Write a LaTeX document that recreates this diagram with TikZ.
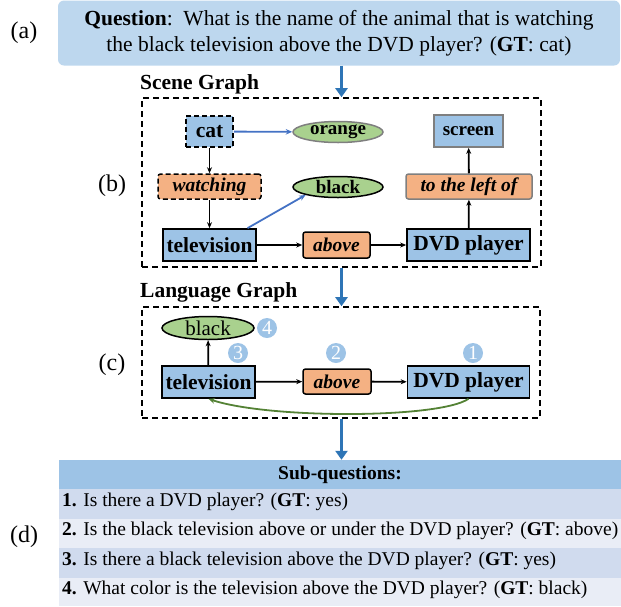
\documentclass[tikz,border=0pt]{standalone}
\usepackage{fontspec}
\setmainfont{Liberation Serif}
\usetikzlibrary{shapes.geometric,arrows.meta}
\definecolor{nblue}{HTML}{9DC3E6}
\definecolor{qblue}{HTML}{BDD7EE}
\definecolor{norange}{HTML}{F4B183}
\definecolor{ngreen}{HTML}{A9D18E}
\definecolor{ablue}{HTML}{2E75B6}
\definecolor{lblue}{HTML}{4472C4}
\definecolor{cgreen}{HTML}{548235}
\definecolor{rowa}{HTML}{D0DBEE}
\definecolor{rowb}{HTML}{E9EDF6}
\definecolor{ngrey}{HTML}{7F7F7F}
\newcommand{\fs}[1]{\fontsize{#1}{#1}\selectfont}
\begin{document}
\begin{tikzpicture}[x=1pt,y=-1pt,
  ent/.style={draw=black, line width=1.7pt, fill=nblue, inner sep=0pt, font=\fs{21.5}\bfseries},
  sment/.style={draw=black, line width=1.7pt, fill=nblue, inner sep=0pt, font=\fs{19}\bfseries},
  rel/.style={draw=black, line width=1.5pt, fill=norange, rounded corners=2.5pt, inner sep=0pt, font=\fs{19.5}\bfseries\itshape},
  attr/.style={ellipse, draw=black, line width=1.5pt, fill=ngreen, inner sep=0pt, font=\fs{19}\bfseries},
  dsh/.style={dash pattern=on 5pt off 3pt},
  grp/.style={draw=black, line width=1.6pt, dash pattern=on 6pt off 4pt, inner sep=0pt},
  conn/.style={line width=1.8pt, -{Stealth[length=6pt,width=5pt]}},
  bconn/.style={line width=1.8pt, lblue, -{Stealth[length=6.5pt,width=5.5pt]}},
  bigarr/.style={line width=3.4pt, ablue, -{Triangle[length=9pt,width=12pt]}},
  num/.style={circle, fill=nblue, inner sep=0pt, minimum size=20pt, text=white, font=\fs{20}},
  lab/.style={font=\fs{24}},
  sec/.style={anchor=west, inner sep=0pt, font=\fs{21.5}\bfseries},
  rowtxt/.style={anchor=mid west, inner sep=0pt, font=\fs{19.5}}
]
\path[use as bounding box] (0,0) rectangle (621,606);

% (a) question
\node[lab] (la) at (24,33) {(a)};
\node[fill=qblue, rounded corners=6pt, minimum width=562pt, minimum height=65pt, inner sep=0pt,
      align=center, font=\fontsize{21.5}{25.5}\selectfont] (q) at (339,33)
  {\textbf{Question}:\ \ What is the name of the animal that is watching\\the black television above the DVD player? (\textbf{GT}: cat)};

% (b) scene graph
\node[sec] (sgl) at (140,84) {Scene Graph};
\node[grp, minimum width=399pt, minimum height=169pt] (sg) at (341.5,182.5) {};
\node[lab] (lb) at (112,186) {(b)};

\node[ent, dsh, minimum width=47pt, minimum height=31pt] (cat) at (209.5,131.5) {cat};
\node[attr, draw=ngrey, minimum width=90pt, minimum height=21pt] (orange) at (338,132) {orange};
\node[rel, dsh, minimum width=103pt, minimum height=25pt] (watch) at (209.5,186.5) {watching};
\node[attr, minimum width=90pt, minimum height=21pt] (black) at (338,187) {black};
\node[ent, minimum width=93pt, minimum height=32pt] (tv) at (209.5,245) {television};
\node[rel, minimum width=67pt, minimum height=26pt] (above) at (336.5,245) {above};
\node[ent, minimum width=123pt, minimum height=32pt] (dvd) at (468.5,245) {DVD player};
\node[rel, draw=ngrey, minimum width=126pt, minimum height=25pt] (left) at (469,186.5) {to the left of};
\node[sment, draw=ngrey, minimum width=69pt, minimum height=32pt] (screen) at (468.5,131) {screen};

\draw[conn] (cat) -- (watch);
\draw[conn] (watch) -- (tv);
\draw[conn] (tv) -- (above);
\draw[conn] (above) -- (dvd);
\draw[conn] (dvd) -- (left);
\draw[conn] (left) -- (screen);
\draw[bconn] (cat) -- (orange);
\draw[bconn] ([xshift=38pt]tv.north) -- (black.south west);

% (c) language graph
\node[sec] (lgl) at (140,292) {Language Graph};
\node[grp, minimum width=398pt, minimum height=111pt] (lg) at (341,362.5) {};
\node[lab] (lc) at (112,365) {(c)};

\node[attr, font=\fs{21}, minimum width=92pt, minimum height=23pt] (black2) at (208,328) {black};
\node[ent, minimum width=93pt, minimum height=32pt] (tv2) at (208.5,382) {television};
\node[rel, minimum width=68pt, minimum height=25pt] (above2) at (337,381.5) {above};
\node[ent, minimum width=122pt, minimum height=32pt] (dvd2) at (468.5,382) {DVD player};
\node[num] (n4) at (267,328) {4};
\node[num] (n3) at (238,353) {3};
\node[num] (n2) at (336,353) {2};
\node[num] (n1) at (473,353) {1};

\draw[conn] (tv2) -- (black2);
\draw[conn] (tv2) -- (above2);
\draw[conn] (above2) -- (dvd2);
\draw[line width=1.8pt, cgreen, -{Stealth[length=6.5pt,width=5.5pt]}]
  (dvd2.south) .. controls +(-30,20) and +(60,20) .. (tv2.south);

% (d) sub-questions
\node[lab] (ld) at (24,537) {(d)};
\node[fill=nblue, minimum width=562pt, minimum height=29pt, inner sep=0pt, font=\fs{19.5}\bfseries] (hd) at (340,474.5) {Sub-questions:};
\node[fill=rowa, minimum width=562pt, minimum height=30pt, inner sep=0pt] (r1) at (340,504) {};
\node[fill=rowb, minimum width=562pt, minimum height=29pt, inner sep=0pt] (r2) at (340,533.5) {};
\node[fill=rowa, minimum width=562pt, minimum height=30pt, inner sep=0pt] (r3) at (340,563) {};
\node[fill=rowb, minimum width=562pt, minimum height=28pt, inner sep=0pt] (r4) at (340,592) {};
\node[rowtxt] (t1) at (62,504) {\textbf{1.} Is there a DVD player? (\textbf{GT}: yes)};
\node[rowtxt] (t2) at (62,533.5) {\textbf{2.} Is the black television above or under the DVD player? (\textbf{GT}: above)};
\node[rowtxt] (t3) at (62,563) {\textbf{3.} Is there a black television above the DVD player? (\textbf{GT}: yes)};
\node[rowtxt] (t4) at (62,592) {\textbf{4.} What color is the television above the DVD player? (\textbf{GT}: black)};

% big arrows
\draw[bigarr] (q.south -| sg.north) -- (sg.north);
\draw[bigarr] (sg.south) -- (sg.south |- lg.north);
\draw[bigarr] (lg.south -| sg.south) -- (sg.south |- hd.north);
\end{tikzpicture}
\end{document}
